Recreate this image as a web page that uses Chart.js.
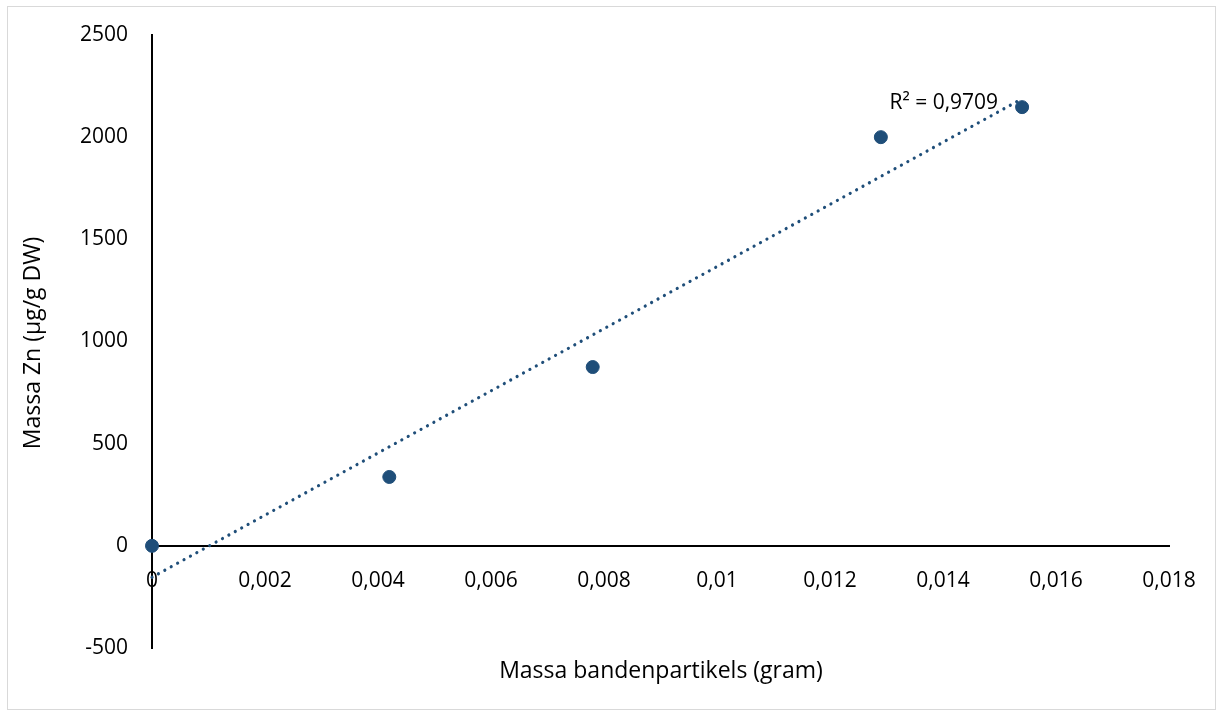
<!DOCTYPE html>
<html>
<head>
<meta charset="utf-8">
<script src="https://cdn.jsdelivr.net/npm/chart.js@4"></script>
<style>
  html, body { margin:0; padding:0; background:#fff; }
  #wrap { position:absolute; left:0; top:0; width:1223px; height:716px; }
  #frame { position:absolute; left:7px; top:6px; width:1209px; height:704px; border:1px solid #d9d9d9; box-sizing:border-box; }
  canvas { position:absolute; left:0; top:0; }
</style>
</head>
<body>
<div id="wrap">
  <div id="frame"></div>
  <canvas id="c" width="1223" height="716"></canvas>
</div>
<script>
// ---- data ----
const massaBanden = [0, 0.0042, 0.0078, 0.0129, 0.0154];   // gram
const massaZn     = [0, 337, 875, 2000, 2147];              // µg/g DW
const xTicks = [0, 0.002, 0.004, 0.006, 0.008, 0.01, 0.012, 0.014, 0.016, 0.018];
const yTicks = [-500, 0, 500, 1000, 1500, 2000, 2500];
const xTitle = 'Massa bandenpartikels (gram)';
const yTitle = 'Massa Zn (µg/g DW)';
const r2Label = 'R² = 0,9709';

// linear trendline (least squares) from the data
const n = massaBanden.length;
const mx = massaBanden.reduce((a,b)=>a+b,0)/n;
const my = massaZn.reduce((a,b)=>a+b,0)/n;
let sxx=0, sxy=0;
for (let i=0;i<n;i++){ sxx += (massaBanden[i]-mx)**2; sxy += (massaBanden[i]-mx)*(massaZn[i]-my); }
const slope = sxy/sxx, icpt = my - slope*mx;
const xMin = Math.min(...massaBanden), xMax = Math.max(...massaBanden);
const trend = [xMin, xMax].map(x => ({x, y: icpt + slope*x}));

const FONT = '"Open Sans", "Noto Sans", sans-serif';
const COL = '#1f4e79';

const fmt = v => String(Number(v.toFixed(4))).replace('.', ',');

const titlesPlugin = {
  id: 'titles',
  afterDraw(chart) {
    const ctx = chart.ctx;
    const xs = chart.scales.x, ys = chart.scales.y;
    ctx.save();
    ctx.fillStyle = '#000';
    ctx.font = '23px ' + FONT;
    ctx.textAlign = 'center';
    ctx.textBaseline = 'middle';
    ctx.fillText(xTitle, 661, 671);
    ctx.save();
    ctx.translate(33, 343);
    ctx.rotate(-Math.PI/2);
    ctx.fillText(yTitle, 0, 0);
    ctx.restore();
    // R² label near the end of the trendline
    const px = xs.getPixelForValue(trend[1].x), py = ys.getPixelForValue(trend[1].y);
    ctx.font = '21px ' + FONT;
    ctx.textAlign = 'right';
    ctx.fillText(r2Label, px - 24, py + 4);
    ctx.restore();
  }
};

new Chart(document.getElementById('c'), {
  type: 'scatter',
  data: {
    datasets: [
      {
        label: 'Massa Zn',
        data: massaBanden.map((x,i)=>({x, y: massaZn[i]})),
        backgroundColor: COL,
        borderColor: COL,
        pointRadius: 6.5,
        pointHoverRadius: 6.5,
        clip: false,
        order: 1
      },
      {
        label: 'Trend',
        type: 'line',
        data: trend,
        borderColor: COL,
        borderWidth: 3.2,
        borderDash: [0.01, 7.3],
        borderCapStyle: 'round',
        pointRadius: 0,
        fill: false,
        clip: false,
        order: 2
      }
    ]
  },
  options: {
    responsive: false,
    animation: false,
    events: [],
    layout: { padding: { left: 0, top: 35, right: 54, bottom: 68 } },
    plugins: { legend: { display: false }, tooltip: { enabled: false }, title: { display: false } },
    scales: {
      x: {
        type: 'linear',
        min: 0, max: 0.018,
        position: { y: 0 },
        afterBuildTicks: s => { s.ticks = xTicks.map(v => ({ value: v })); },
        grid: { display: false },
        border: { display: true, color: '#000', width: 2 },
        ticks: { color: '#000', font: { family: FONT, size: 21 }, padding: 15, maxRotation: 0, autoSkip: false, callback: v => fmt(v) }
      },
      y: {
        type: 'linear',
        min: -500, max: 2500,
        position: 'left',
        afterBuildTicks: s => { s.ticks = yTicks.map(v => ({ value: v })); },
        afterFit: s => { s.width = 152; },
        grid: { display: false },
        border: { display: true, color: '#000', width: 2 },
        ticks: { color: '#000', font: { family: FONT, size: 21 }, padding: 16, autoSkip: false, callback: v => fmt(v) }
      }
    }
  },
  plugins: [titlesPlugin]
});
</script>
</body>
</html>
